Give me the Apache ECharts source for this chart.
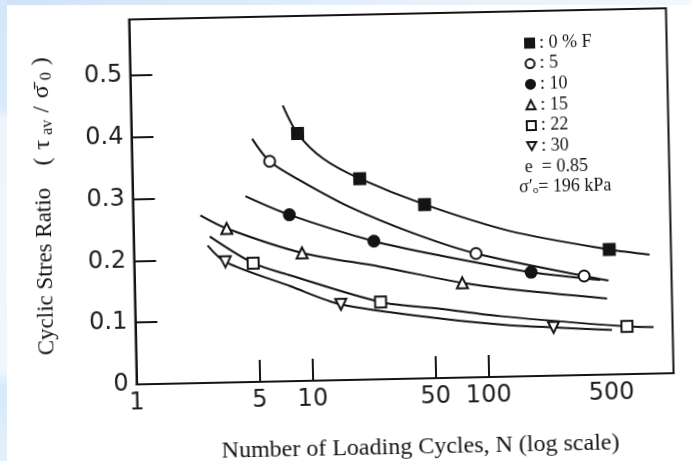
<!DOCTYPE html>
<html>
<head>
<meta charset="utf-8">
<script src="https://cdn.jsdelivr.net/npm/echarts@6/dist/echarts.min.js"></script>
<style>
  html, body { margin: 0; padding: 0; width: 692px; height: 461px; overflow: hidden; background: #ffffff; }
  #edgeTop { position: absolute; left: 0; top: 0; width: 692px; height: 5px;
             background: linear-gradient(90deg, #cfe3f6, #e3effa 50%, #f2f8fd); }
  #edgeLeft { position: absolute; left: 0; top: 0; width: 7px; height: 461px;
              background: linear-gradient(180deg, #d3e7f8 0%, #d9eaf9 23%, #eef5fc 26%, #f1f7fd 80%, #d6e9f9 84%, #e4f0fb 100%); }
  #chart { position: absolute; left: 0; top: 0; width: 692px; height: 461px; transform: rotate(-1.2deg); }
</style>
</head>
<body>
<div id="edgeTop"></div>
<div id="edgeLeft"></div>
<div id="chart"></div>
<script>
// Fines content (% F) of each test series
const seriesNames = ['0 % F', '5', '10', '15', '22', '30'];

// Measured points: [number of cycles N, cyclic stress ratio]
const pointsF0 = [[8.8, 0.400], [19.6, 0.325], [45.5, 0.281], [504, 0.202]];
const pointsF5 = [[6.06, 0.356], [88, 0.200], [360, 0.160]];
const pointsF10 = [[7.73, 0.269], [23.2, 0.2235], [180, 0.168]];
const pointsF15 = [[3.39, 0.249], [9.03, 0.207], [73, 0.153]];
const pointsF22 = [[4.75, 0.192], [24.9, 0.125], [622, 0.077]];
const pointsF30 = [[3.30, 0.195], [14.8, 0.1224], [238, 0.078]];

// Fitted curves through each series: [N, stress ratio]
const curveF0 = [[7.3, 0.446], [8.8, 0.400], [12.3, 0.358], [19.6, 0.325], [45.5, 0.281], [139, 0.235], [504, 0.202], [852, 0.1925]];
const curveF5 = [[4.85, 0.393], [6.06, 0.356], [9.0, 0.324], [17.2, 0.279], [38.9, 0.235], [88, 0.200], [360, 0.160], [495, 0.152]];
const curveF10 = [[4.37, 0.3005], [7.73, 0.269], [23.2, 0.2235], [55, 0.198], [180, 0.168], [444, 0.153]];
const curveF15 = [[2.41, 0.271], [3.39, 0.249], [9.03, 0.207], [25, 0.182], [73, 0.153], [131, 0.142], [483, 0.123]];
const curveF22 = [[2.71, 0.2365], [4.75, 0.192], [7.7, 0.171], [24.9, 0.125], [54.3, 0.112], [119, 0.098], [622, 0.077], [881, 0.075]];
const curveF30 = [[2.63, 0.222], [3.30, 0.195], [7.68, 0.1535], [14.8, 0.1224], [54.2, 0.0963], [135, 0.083], [238, 0.078], [511, 0.072]];

// Axis ticks and labels
const xLabelValues = [1, 5, 10, 50, 100, 500];
const xTickValues = [5, 10, 50, 100];
const xRange = [1, 1130];
const yLabelValues = [0, 0.1, 0.2, 0.3, 0.4, 0.5];
const yTickValues = [0.1, 0.2, 0.3, 0.4, 0.5];
const yRange = [0, 0.59];

// Test conditions listed under the key
const voidRatioText = 'e  = 0.85';
const confiningText = 'σ′{s|o}= 196 kPa';

const allPoints = [pointsF0, pointsF5, pointsF10, pointsF15, pointsF22, pointsF30];
const allCurves = [curveF0, curveF5, curveF10, curveF15, curveF22, curveF30];

const INK = '#141414';
const lg = v => Math.log10(v);
const toXY = arr => arr.map(([n, r]) => [lg(n), r]);

const markerLook = [
  { symbol: 'rect', fill: INK, size: 11 },
  { symbol: 'circle', fill: '#fff', size: 11 },
  { symbol: 'circle', fill: INK, size: 11 },
  { symbol: 'triangle', fill: '#fff', size: 11 },
  { symbol: 'rect', fill: '#fff', size: 11 },
  { symbol: 'path://M0,0L10,0L5,9Z', fill: '#fff', size: 11 }
];

const series = [];
allCurves.forEach((c, i) => {
  series.push({
    name: seriesNames[i] + ' curve',
    type: 'line',
    data: toXY(c),
    showSymbol: false,
    smooth: 0.3,
    lineStyle: { color: INK, width: 2 },
    z: 2,
    silent: true
  });
});
allPoints.forEach((p, i) => {
  const m = markerLook[i];
  series.push({
    name: seriesNames[i],
    type: 'scatter',
    data: toXY(p),
    symbol: m.symbol,
    symbolSize: m.size,
    itemStyle: { color: m.fill, borderColor: INK, borderWidth: 2, opacity: 1 },
    z: 5
  });
});

const serif = '"Liberation Serif", "Times New Roman", serif';
const sans = '"DejaVu Sans", sans-serif';

const chart = echarts.init(document.getElementById('chart'));
chart.setOption({
  animation: false,
  backgroundColor: 'transparent',
  grid: {
    left: 133.5, right: 21.5, top: 15, bottom: 81,
    outerBoundsMode: 'none',
    show: true, borderColor: INK, borderWidth: 2, backgroundColor: 'transparent'
  },
  xAxis: {
    type: 'value',
    min: lg(xRange[0]),
    max: lg(xRange[1]),
    name: 'Number of Loading Cycles, N (log scale)',
    nameLocation: 'middle',
    nameGap: 57,
    nameTextStyle: { fontFamily: serif, fontSize: 24, color: INK, padding: [0, 0, 0, 28] },
    axisLine: { show: true, lineStyle: { color: INK, width: 2 } },
    axisTick: { show: true, inside: true, length: 22, customValues: xTickValues.map(lg),
                lineStyle: { color: INK, width: 2 } },
    axisLabel: {
      customValues: xLabelValues.map(lg),
      formatter: v => String(Math.round(Math.pow(10, v))),
      fontFamily: sans, fontSize: 24, color: '#1e1e1e', margin: 7
    },
    splitLine: { show: false }
  },
  yAxis: {
    type: 'value',
    min: yRange[0],
    max: yRange[1],
    name: '{m|Cyclic Stres Ratio}   {p|(}{g|τ}{s|av}{p|/}{g|σ̄}{s|0}{p|)}',
    nameLocation: 'middle',
    nameGap: 76,
    nameTextStyle: {
      fontFamily: serif, fontSize: 23, color: INK, lineHeight: 26,
      rich: {
        m: { fontFamily: serif, fontSize: 23, color: INK, lineHeight: 26 },
        p: { fontFamily: serif, fontSize: 24, color: INK, lineHeight: 26, padding: [0, 5, 0, 5] },
        g: { fontFamily: serif, fontSize: 24, color: INK, lineHeight: 26, padding: [0, 3, 0, 3] },
        s: { fontFamily: serif, fontSize: 16, color: INK, lineHeight: 16, verticalAlign: 'bottom', padding: [0, 2, 0, 2] }
      }
    },
    axisLine: { show: true, lineStyle: { color: INK, width: 2 } },
    axisTick: { show: true, inside: true, length: 22, customValues: yTickValues,
                lineStyle: { color: INK, width: 2 } },
    axisLabel: {
      customValues: yLabelValues,
      formatter: v => (v === 0 ? '0' : v.toFixed(1)),
      fontFamily: sans, fontSize: 24, color: '#1e1e1e', margin: 8
    },
    splitLine: { show: false }
  },
  legend: {
    data: seriesNames,
    orient: 'vertical',
    left: 523,
    top: 33,
    itemWidth: 9,
    itemHeight: 9,
    itemGap: 2.6,
    selectedMode: false,
    formatter: name => ': ' + name,
    textStyle: { fontFamily: serif, fontSize: 18, color: INK }
  },
  graphic: [
    { type: 'text', left: 526, top: 162,
      style: { text: voidRatioText, font: '18px ' + serif, fill: INK } },
    { type: 'text', left: 520, top: 182,
      style: { text: confiningText, font: '18px ' + serif, fill: INK,
               rich: { s: { font: '11px ' + serif, fill: INK, verticalAlign: 'bottom', lineHeight: 11 } } } }
  ],
  series: series
});
</script>
</body>
</html>
